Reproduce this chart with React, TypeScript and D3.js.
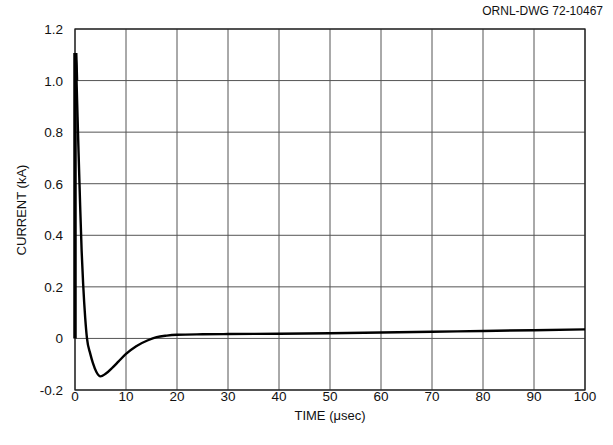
import React from "react";
import * as d3 from "d3";

const timeUs = [0, 0, 0.15, 0.3, 0.5, 0.7, 1.0, 1.3, 1.6, 2.0, 2.35, 3.0, 3.5, 4.2, 5.0, 6.0, 7.4, 8.5, 10, 12, 14.3, 16, 18, 20, 25, 30, 40, 50, 60, 70, 80, 90, 100];
const currentKA = [0, 1.1, 1.1, 1.0, 0.86, 0.72, 0.52, 0.34, 0.21, 0.08, 0, -0.06, -0.095, -0.13, -0.147, -0.137, -0.112, -0.09, -0.06, -0.03, -0.007, 0.005, 0.011, 0.014, 0.016, 0.017, 0.018, 0.02, 0.023, 0.026, 0.029, 0.032, 0.035];
const xTicks = [0, 10, 20, 30, 40, 50, 60, 70, 80, 90, 100];
const yTicks = [-0.2, 0, 0.2, 0.4, 0.6, 0.8, 1.0, 1.2];
const yTickLabels = ["-0.2", "0", "0.2", "0.4", "0.6", "0.8", "1.0", "1.2"];

export default function App() {
  const W = 613, H = 445;
  const x = d3.scaleLinear().domain([0, 100]).range([75, 585]);
  const y = d3.scaleLinear().domain([-0.2, 1.2]).range([390, 29]);
  const pts: [number, number][] = timeUs.map((t, i) => [t, currentKA[i]]);
  const line = d3.line<[number, number]>().x(d => x(d[0])).y(d => y(d[1])).curve(d3.curveMonotoneX);
  const spike = d3.line<[number, number]>().x(d => x(d[0])).y(d => y(d[1]));
  const font = "'Liberation Sans', Arial, sans-serif";
  return (
    <svg width={W} height={H} style={{ position: "absolute", left: 0, top: 0, background: "#fff" }}>
      <rect x={0} y={0} width={W} height={H} fill="#fff" />
      {xTicks.map(t => (
        <line key={"gx" + t} x1={x(t)} x2={x(t)} y1={y(1.2)} y2={y(-0.2)} stroke="#555" strokeWidth={1} />
      ))}
      {yTicks.map(v => (
        <line key={"gy" + v} x1={x(0)} x2={x(100)} y1={y(v)} y2={y(v)} stroke="#555" strokeWidth={1} />
      ))}
      <rect x={x(0)} y={y(1.2)} width={x(100) - x(0)} height={y(-0.2) - y(1.2)} fill="none" stroke="#222" strokeWidth={1.3} />
      <path d={spike(pts.slice(0, 4)) || ""} fill="none" stroke="#000" strokeWidth={3.5} />
      <path d={line(pts.slice(1)) || ""} fill="none" stroke="#000" strokeWidth={2.4} strokeLinejoin="round" />
      {xTicks.map(t => (
        <text key={"tx" + t} x={x(t)} y={401} fontFamily={font} fontSize={13.5} textAnchor="middle" fill="#111">{t}</text>
      ))}
      {yTicks.map((v, i) => (
        <text key={"ty" + v} x={63} y={y(v) + 5} fontFamily={font} fontSize={13.5} textAnchor="end" fill="#111">{yTickLabels[i]}</text>
      ))}
      <text x={330} y={420} fontFamily={font} fontSize={13} textAnchor="middle" fill="#111">TIME (μsec)</text>
      <text transform="translate(26,210) rotate(-90)" fontFamily={font} fontSize={13} textAnchor="middle" fill="#111">CURRENT (kA)</text>
      <text x={603} y={15} fontFamily={font} fontSize={12} textAnchor="end" fill="#111">ORNL-DWG 72-10467</text>
    </svg>
  );
}
